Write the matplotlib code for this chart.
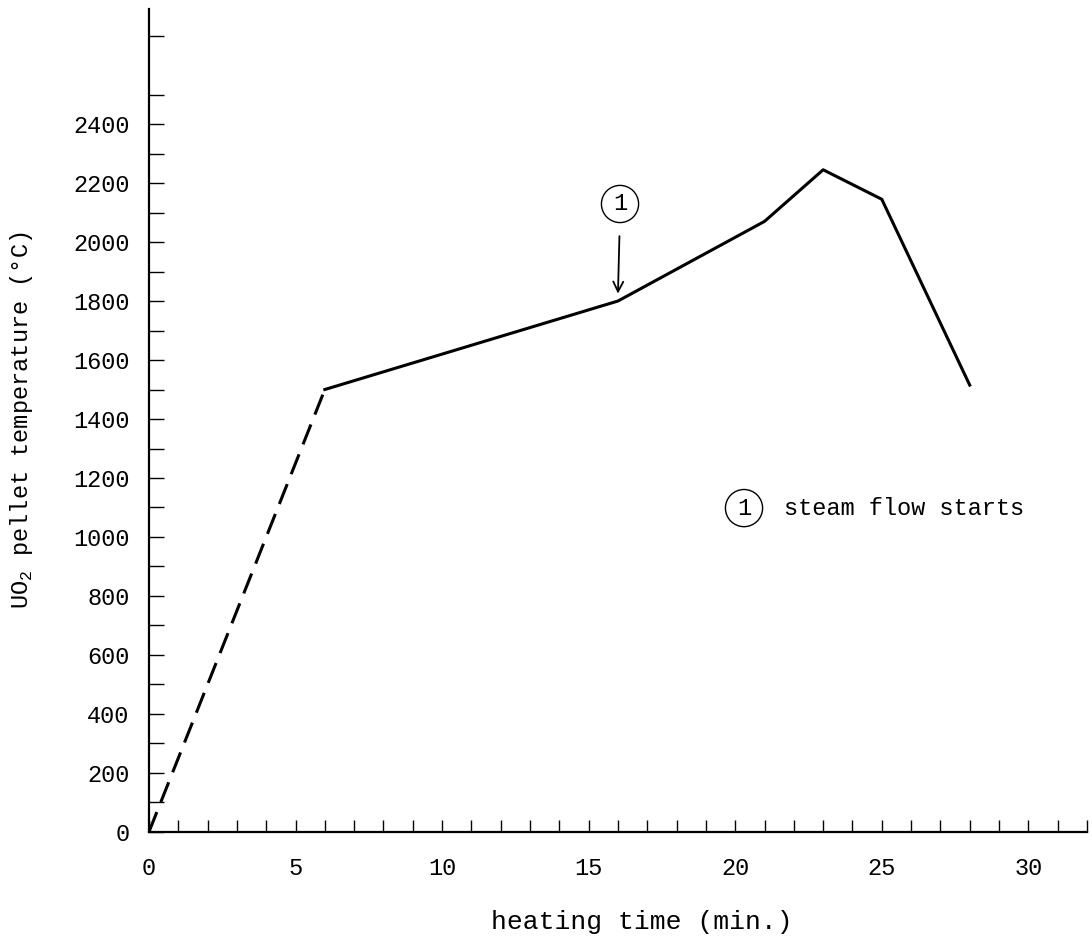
import matplotlib
matplotlib.use('Agg')
import matplotlib.pyplot as plt
from matplotlib.ticker import MultipleLocator

# heating curve
t_dash = [0, 6]
temp_dash = [0, 1500]
t_solid = [6, 16, 21, 23, 25, 28]
temp_solid = [1500, 1800, 2070, 2245, 2145, 1515]

x_ticks = [0, 5, 10, 15, 20, 25, 30]
y_ticks = [0, 200, 400, 600, 800, 1000, 1200, 1400, 1600, 1800, 2000, 2200, 2400]

# event marker (1)
event_t = 16
event_label = '1'
event_text = 'steam flow starts'

plt.rcParams['font.family'] = ['Liberation Mono', 'DejaVu Sans Mono']
plt.rcParams['mathtext.fontset'] = 'custom'
plt.rcParams['mathtext.rm'] = 'Liberation Mono'

fig = plt.figure(figsize=(10.92, 9.39), dpi=100)
ax = fig.add_axes([0.1364, 0.114, 0.859, 0.8764])

ax.plot(t_dash, temp_dash, color='black', lw=2.2, ls=(0, (7, 3.5)), solid_capstyle='butt')
ax.plot(t_solid, temp_solid, color='black', lw=2.2)

# arrow + circled number above the kink
ax.annotate('', xy=(event_t, 1825), xytext=(event_t + 0.05, 2020),
            arrowprops=dict(arrowstyle='->', lw=1.3, color='black',
                            mutation_scale=18, shrinkA=0, shrinkB=0))
ax.text(event_t + 0.07, 2129, event_label, ha='center', va='center', fontsize=17,
        bbox=dict(boxstyle='circle,pad=0.3', fc='none', ec='black', lw=1.0))

ax.text(20.3, 1098, event_label, ha='center', va='center', fontsize=17,
        bbox=dict(boxstyle='circle,pad=0.3', fc='none', ec='black', lw=1.0))
ax.text(21.65, 1098, event_text, ha='left', va='center', fontsize=17)

ax.set_xlim(0, 32)
ax.set_ylim(0, 2790)
ax.set_xticks(x_ticks)
ax.set_yticks(y_ticks)
ax.xaxis.set_minor_locator(MultipleLocator(1))
ax.set_yticks([v for v in range(100, 2800, 200)], minor=True)

ax.tick_params(axis='x', which='both', direction='in', length=9, width=1.0,
               labelsize=17, pad=18)
ax.tick_params(axis='y', which='both', direction='in', length=11, width=1.0,
               labelsize=17, pad=14)

for s in ['top', 'right']:
    ax.spines[s].set_visible(False)
for s in ['left', 'bottom']:
    ax.spines[s].set_linewidth(1.6)

ax.set_xlabel('heating time (min.)', fontsize=19)
ax.set_ylabel(r'UO$_2$ pellet temperature (°C)', fontsize=17)
ax.xaxis.set_label_coords(0.525, -0.095)
ax.yaxis.set_label_coords(-0.122, 0.5)

fig.savefig('out.png', dpi=100)
